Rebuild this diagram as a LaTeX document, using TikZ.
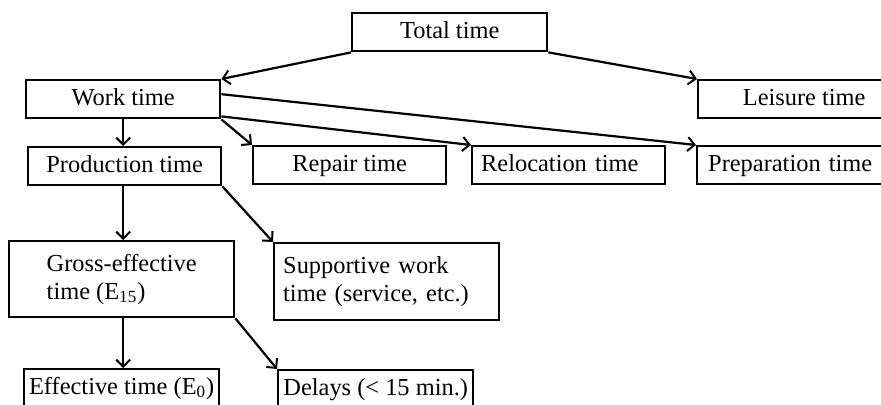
\documentclass[tikz,border=0pt]{standalone}
\usepackage{fontspec}
\setmainfont{Liberation Serif}
\usepackage{tikz}
\usetikzlibrary{positioning, arrows.meta}
\tikzset{
>={Straight Barb[length=3.5pt, width=7pt, line width=1pt]}, % open arrow heads
link/.style={->, line width=1.1pt}, % the connecting arrows
box/.style={draw, line width=1.2pt, minimum height=19pt, inner sep=0pt, anchor=north west}, % every box
one/.style={text height=8.6pt, text depth=2.6pt}, % one-line boxes share a baseline
leftbox/.style={box, align=left, inner xsep=4.5pt}, % boxes whose text starts at the left
}

\begin{document}
\begin{tikzpicture}[x=0.5pt, y=-0.5pt, font=\fontsize{12.2}{14}\selectfont]
    \useasboundingbox (0,0) rectangle (881,405);

    \node[box, one, minimum width=97.5pt] (total) at (351,12) {Total time};
    \node[box, one, minimum width=97pt] (work) at (25,79) {Work time};
    \node[box, one, minimum width=106pt] (leisure) at (697,79) {Leisure time};
    \node[box, one, minimum width=96.5pt] (prod) at (27,146) {Production time};
    \node[box, one, minimum width=96.5pt] (repair) at (252,145) {Repair time};
    \node[leftbox, one, text width=87.5pt] (reloc) at (471,145) {Relocation time};
    \node[leftbox, one, inner xsep=5.5pt, text width=100pt] (prep) at (696,145) {Preparation time};
    \node[box, align=left, minimum width=112.5pt, minimum height=38pt] (gross) at (8,240)
        {Gross-effective\\time (E\textsubscript{15})};
    \node[leftbox, text width=103.5pt, minimum height=38.5pt] (supp) at (273,242)
        {Supportive work\\time (service, etc.)};
    \node[box, one, minimum width=97.5pt] (eff) at (23,368) {Effective time (E\textsubscript{0})};
    \node[box, one, minimum width=97.5pt] (delay) at (277,369) {Delays (< 15 min.)};

    \draw[link] (total.south west) -- (work.north east);
    \draw[link] (total.south east) -- (leisure.north west);

    \draw[link] (work.south) -- (work.south |- prod.north);
    \draw[link] (work.south east) -- (repair.north west);
    \draw[link] ([yshift=1.5pt]work.south east) -- (reloc.north west);
    \draw[link] ([yshift=2.5pt]work.east) -- (prep.north west);

    \draw[link] (work.south |- prod.south) -- (work.south |- gross.north);
    \draw[link] (prod.south east) -- (supp.north west);

    \draw[link] (work.south |- gross.south) -- (work.south |- eff.north);
    \draw[link] (gross.south east) -- (delay.north west);

  \end{tikzpicture}
\end{document}
